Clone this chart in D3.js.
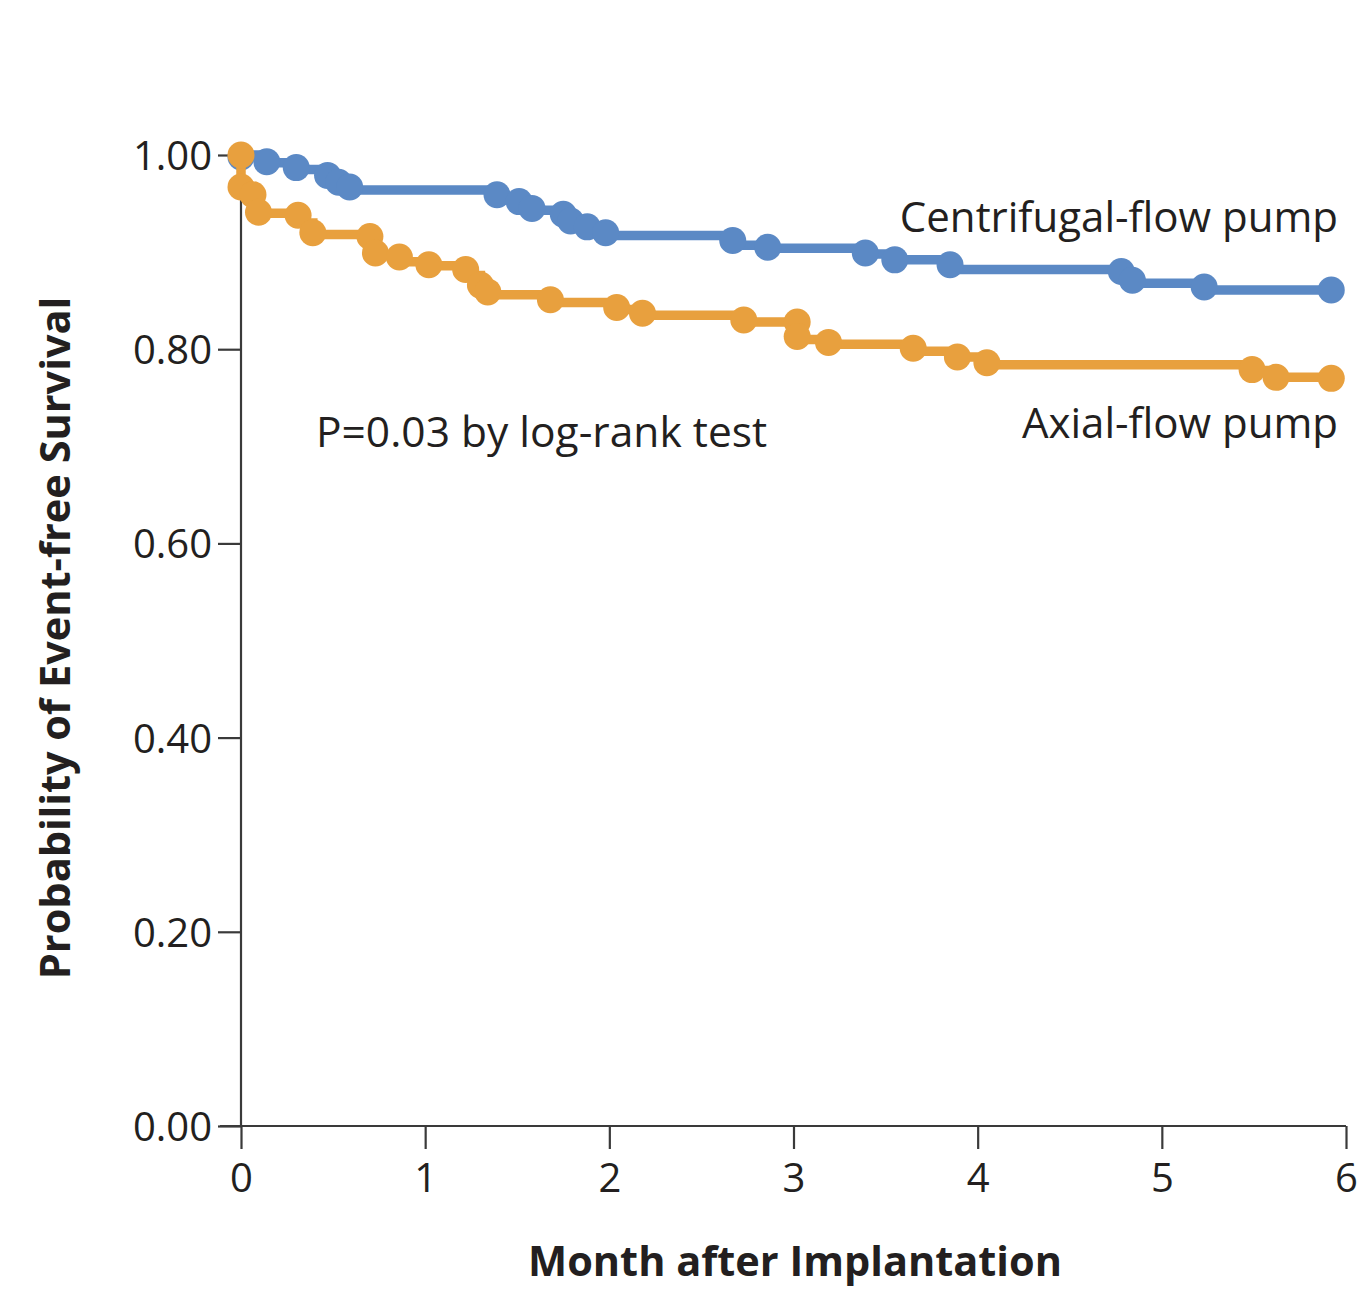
<!DOCTYPE html>
<html>
<head>
<meta charset="utf-8">
<script src="https://cdn.jsdelivr.net/npm/d3@7"></script>
<style>
  body { margin: 0; background: #fff; }
  svg text { font-family: "Open Sans", "Noto Sans", sans-serif; fill: #231f20; }
</style>
</head>
<body>
<svg id="chart" width="1362" height="1289"></svg>
<script>
// month after implantation, survival after each step (Kaplan-Meier)
const centrifugalSteps = [
  [0, 1.0], [0.14, 0.992], [0.30, 0.985], [0.47, 0.977], [0.53, 0.970], [0.59, 0.964],
  [1.39, 0.956], [1.51, 0.950], [1.58, 0.943], [1.75, 0.937], [1.79, 0.930], [1.88, 0.924],
  [1.98, 0.917], [2.67, 0.907], [2.86, 0.904], [3.39, 0.898], [3.55, 0.892], [3.85, 0.882],
  [4.78, 0.876], [4.84, 0.868], [5.23, 0.861], [5.92, 0.861]
]
const centrifugalDots = [
  [0, 0.998], [0.14, 0.993], [0.30, 0.987], [0.47, 0.979], [0.53, 0.972], [0.59, 0.967],
  [1.39, 0.959], [1.51, 0.952], [1.58, 0.945], [1.75, 0.939], [1.79, 0.932], [1.88, 0.926],
  [1.98, 0.920], [2.67, 0.912], [2.86, 0.905], [3.39, 0.899], [3.55, 0.892], [3.85, 0.887],
  [4.78, 0.880], [4.84, 0.871], [5.23, 0.864], [5.92, 0.861]
]
const axialSteps = [
  [0, 1.0], [0, 0.967], [0.065, 0.957], [0.095, 0.940], [0.31, 0.930], [0.39, 0.918],
  [0.70, 0.908], [0.73, 0.897], [0.86, 0.890], [1.02, 0.886], [1.22, 0.876], [1.30, 0.866],
  [1.34, 0.856], [1.68, 0.848], [2.04, 0.841], [2.18, 0.835], [2.73, 0.828], [3.02, 0.820],
  [3.025, 0.810], [3.19, 0.805], [3.65, 0.798], [3.89, 0.792], [4.05, 0.784], [5.49, 0.778],
  [5.62, 0.771], [5.92, 0.771]
]
const axialDots = [
  [0, 1.0], [0, 0.967], [0.065, 0.959], [0.095, 0.941], [0.31, 0.938], [0.39, 0.920],
  [0.70, 0.916], [0.73, 0.899], [0.86, 0.895], [1.02, 0.887], [1.22, 0.882], [1.30, 0.866],
  [1.34, 0.859], [1.68, 0.851], [2.04, 0.843], [2.18, 0.837], [2.73, 0.830], [3.02, 0.828],
  [3.02, 0.813], [3.19, 0.807], [3.65, 0.801], [3.89, 0.792], [4.05, 0.786], [5.49, 0.779],
  [5.62, 0.771], [5.92, 0.770]
]
const xTicks = [0, 1, 2, 3, 4, 5, 6]
const yTicks = [0, 0.2, 0.4, 0.6, 0.8, 1.0]

const blue = '#5b89c5'
const orange = '#e8a03e'

const svg = d3.select('#chart')
const x = d3.scaleLinear().domain([0, 6]).range([241, 1346])
const y = d3.scaleLinear().domain([0, 1]).range([1126, 155])

//axes
const yAxis = svg.append('g')
    .attr('transform', 'translate(' + x(0) + ',0)')
    .call(d3.axisLeft(y).tickValues(yTicks).tickFormat(d3.format('.2f')).tickSize(23).tickPadding(6))
const xAxis = svg.append('g')
    .attr('transform', 'translate(0,' + y(0) + ')')
    .call(d3.axisBottom(x).tickValues(xTicks).tickFormat(d3.format('d')).tickSize(23).tickPadding(15))

;[yAxis, xAxis].forEach(function (g) {
    g.select('.domain').attr('stroke', '#3a3a3a').attr('stroke-width', 2.2)
    g.selectAll('.tick line').attr('stroke', '#3a3a3a').attr('stroke-width', 2.2)
    g.selectAll('.tick text')
        .style('font-family', '"Open Sans", sans-serif')
        .style('font-size', '40px')
        .attr('fill', '#231f20')
})
yAxis.select('.domain').attr('d', 'M0,' + y(1) + 'V' + y(0))
xAxis.select('.domain').attr('d', 'M' + (x(0) - 21) + ',0H' + x(6))
yAxis.selectAll('.tick text').attr('dy', '0.36em')

//curves
const line = d3.line()
    .curve(d3.curveStepAfter)
    .x(d => x(d[0]))
    .y(d => y(d[1]))

function drawSeries(steps, dots, color) {
    svg.append('path')
        .attr('d', line(steps))
        .style('fill', 'none')
        .style('stroke', color)
        .attr('stroke-width', 9.5)
    svg.append('g').selectAll('circle')
        .data(dots)
        .join('circle')
        .attr('cx', d => x(d[0]))
        .attr('cy', d => y(d[1]))
        .attr('r', 13.5)
        .style('fill', color)
}
drawSeries(centrifugalSteps, centrifugalDots, blue)
drawSeries(axialSteps, axialDots, orange)

//labels
svg.append('text')
    .attr('x', 1338).attr('y', 232)
    .attr('text-anchor', 'end')
    .style('font-size', '42px')
    .text('Centrifugal-flow pump')
svg.append('text')
    .attr('x', 1338).attr('y', 438)
    .attr('text-anchor', 'end')
    .style('font-size', '42px')
    .text('Axial-flow pump')
svg.append('text')
    .attr('x', 316).attr('y', 447)
    .style('font-size', '42.5px')
    .text('P=0.03 by log-rank test')

svg.append('text')
    .attr('x', 795).attr('y', 1276)
    .attr('text-anchor', 'middle')
    .style('font-size', '41.5px')
    .style('font-weight', 'bold')
    .text('Month after Implantation')
svg.append('text')
    .attr('transform', 'translate(70,638) rotate(-90)')
    .attr('text-anchor', 'middle')
    .style('font-size', '41.5px')
    .style('font-weight', 'bold')
    .text('Probability of Event-free Survival')
</script>
</body>
</html>
